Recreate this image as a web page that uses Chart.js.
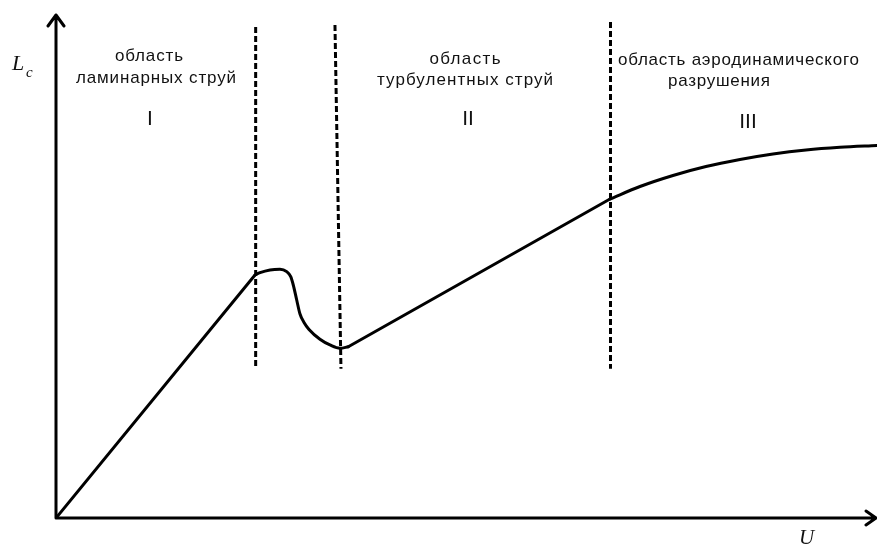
<!DOCTYPE html>
<html lang="ru">
<head>
    <meta charset="UTF-8">
    <title>Lc(U)</title>
    <script src="https://cdn.jsdelivr.net/npm/chart.js"></script>
    <style>
        html, body { margin: 0; padding: 0; background: #fff; }
        #chart { display: block; }
    </style>
</head>
<body>
    <canvas id="chart" width="877" height="546"></canvas>
    <script>
    // участки кривой Lc(U), в условных единицах 0..100
    const riseU = [0, 24.24];
    const riseLc = [0, 48.21];
    const humpU = [24.24, 24.85, 26.07, 27.28, 28.10, 28.59, 28.90, 29.32, 29.72, 30.21, 30.82, 32.15, 33.37, 34.59, 35.60];
    const humpLc = [48.21, 48.67, 49.21, 49.35, 48.87, 47.88, 46.23, 43.25, 40.48, 38.79, 37.40, 35.46, 34.33, 33.67, 33.99];
    const climbU = [35.60, 67.48];
    const climbLc = [33.99, 63.29];
    const tailU = [67.48, 71.13, 75.15, 79.17, 83.31, 87.33, 91.35, 95.49, 100];
    const tailLc = [63.29, 65.77, 67.96, 69.74, 71.13, 72.22, 73.02, 73.55, 73.91];

    // границы областей (пунктир)
    const boundU = [[24.32, 24.32], [33.98, 34.71], [67.54, 67.54]];
    const boundLc = [[97.4, 29.6], [97.8, 29.6], [98.4, 29.6]];

    const regionTitles = [
        ['область', 'ламинарных струй'],
        ['область', 'турбулентных струй'],
        ['область аэродинамического', 'разрушения']
    ];
    const regionNumbers = ['I', 'II', 'III'];

    function pts(us, ls) {
        return us.map((u, i) => ({ x: u, y: ls[i] }));
    }

    function curve(us, ls, smooth) {
        return {
            data: pts(us, ls),
            borderColor: '#000',
            borderWidth: 3,
            pointRadius: 0,
            showLine: true,
            fill: false,
            tension: smooth ? 0.4 : 0,
            cubicInterpolationMode: smooth ? 'monotone' : 'default',
            borderJoinStyle: 'round',
            borderCapStyle: 'round'
        };
    }

    const datasets = [
        curve(riseU, riseLc, false),
        curve(humpU, humpLc, true),
        curve(climbU, climbLc, false),
        curve(tailU, tailLc, true)
    ];
    boundU.forEach(function(us, i) {
        datasets.push({
            data: pts(us, boundLc[i]),
            borderColor: '#000',
            borderWidth: 3,
            borderDash: [6, 3],
            borderCapStyle: 'butt',
            pointRadius: 0,
            showLine: true,
            fill: false,
            tension: 0
        });
    });

    // текст растягивается по ширине за счёт межбуквенного интервала
    function fitText(ctx, str, cx, base, w) {
        ctx.letterSpacing = '0px';
        const m = ctx.measureText(str).width;
        const ls = (w - m) / Math.max(1, str.length - 1);
        ctx.letterSpacing = ls.toFixed(2) + 'px';
        ctx.textAlign = 'left';
        ctx.fillText(str, cx - w / 2, base);
        ctx.letterSpacing = '0px';
    }

    const axesAndLabels = {
        id: 'axesAndLabels',
        beforeDatasetsDraw(chart) {
            const ctx = chart.ctx;
            const x = chart.scales.x, y = chart.scales.y;
            const x0 = x.getPixelForValue(0), y0 = y.getPixelForValue(0);
            const xEnd = x.getPixelForValue(100), yEnd = y.getPixelForValue(100);
            ctx.save();
            ctx.strokeStyle = '#000';
            ctx.lineWidth = 3;
            ctx.lineCap = 'round';
            ctx.lineJoin = 'round';
            ctx.beginPath();
            ctx.moveTo(x0, y0);
            ctx.lineTo(x0, yEnd + 1);
            ctx.moveTo(x0, y0);
            ctx.lineTo(xEnd - 1, y0);
            // стрелки
            ctx.moveTo(x0 - 8, yEnd + 12);
            ctx.lineTo(x0, yEnd + 1);
            ctx.lineTo(x0 + 8, yEnd + 12);
            ctx.moveTo(xEnd - 11, y0 - 7);
            ctx.lineTo(xEnd - 1, y0);
            ctx.lineTo(xEnd - 11, y0 + 7);
            ctx.stroke();
            ctx.restore();
        },
        afterDatasetsDraw(chart) {
            const ctx = chart.ctx;
            ctx.save();
            ctx.fillStyle = '#111';
            ctx.textBaseline = 'alphabetic';

            ctx.font = '17px "Liberation Sans", Arial, sans-serif';
            fitText(ctx, regionTitles[0][0], 149, 61, 68);
            fitText(ctx, regionTitles[0][1], 156, 83, 160);
            fitText(ctx, regionTitles[1][0], 465, 64, 71);
            fitText(ctx, regionTitles[1][1], 465, 85, 176);
            fitText(ctx, regionTitles[2][0], 738.5, 65, 241);
            fitText(ctx, regionTitles[2][1], 719, 86, 102);

            ctx.font = '21px "Liberation Sans", Arial, sans-serif';
            ctx.textAlign = 'center';
            ctx.fillText(regionNumbers[0], 150, 125);
            ctx.fillText(regionNumbers[1], 468, 125);
            ctx.fillText(regionNumbers[2], 748, 128);

            // обозначения осей
            ctx.textAlign = 'left';
            ctx.font = 'italic 22px "Liberation Serif", "Times New Roman", serif';
            ctx.fillText('L', 12, 70);
            ctx.font = 'italic 15px "Liberation Serif", "Times New Roman", serif';
            ctx.fillText('c', 26, 77);
            ctx.font = 'italic 21px "Liberation Serif", "Times New Roman", serif';
            ctx.fillText('U', 799, 544);
            ctx.restore();
        }
    };

    new Chart(document.getElementById('chart').getContext('2d'), {
        type: 'scatter',
        data: { datasets: datasets },
        options: {
            responsive: false,
            animation: false,
            devicePixelRatio: 1,
            layout: { padding: { left: 56, right: 0, top: 14, bottom: 28 } },
            plugins: {
                legend: { display: false },
                tooltip: { enabled: false }
            },
            scales: {
                x: { type: 'linear', min: 0, max: 100, display: false },
                y: { type: 'linear', min: 0, max: 100, display: false }
            }
        },
        plugins: [axesAndLabels]
    });
    </script>
</body>
</html>
